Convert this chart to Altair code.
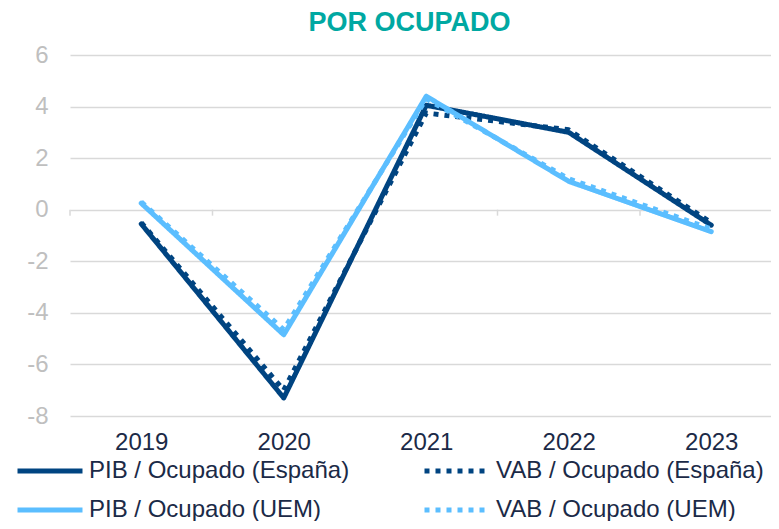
import altair as alt
import pandas as pd

years = [2019, 2020, 2021, 2022, 2023]
series_names = [
    "PIB / Ocupado (España)",
    "VAB / Ocupado (España)",
    "PIB / Ocupado (UEM)",
    "VAB / Ocupado (UEM)",
]
pib_espana = [-0.55, -7.3, 4.05, 3.0, -0.6]
vab_espana = [-0.5, -7.0, 3.75, 3.1, -0.5]
pib_uem = [0.25, -4.85, 4.4, 1.1, -0.85]
vab_uem = [0.3, -4.65, 4.3, 1.2, -0.75]
y_ticks = [-8, -6, -4, -2, 0, 2, 4, 6]
zero_ticks = [2018.5, 2019.5, 2020.5, 2021.5, 2022.5]

DARK = "#004481"
LIGHT = "#5BBEFF"
colors = [DARK, DARK, LIGHT, LIGHT]
dashes = [[1, 0], [5, 6], [1, 0], [5, 6]]
caps = ["round", "butt", "round", "butt"]

rows = []
for name, vals in zip(series_names, [pib_espana, vab_espana, pib_uem, vab_uem]):
    for i, (yr, v) in enumerate(zip(years, vals)):
        rows.append({"year": yr, "value": v, "serie": name, "order": i})
df = pd.DataFrame(rows)

xscale = alt.Scale(domain=[2018.5, 2018.5 + 701 / 142.5], nice=False, zero=False)
yscale = alt.Scale(domain=[-8, 6], nice=False, zero=False)

legend = alt.Legend(
    title=None,
    orient="none",
    legendX=-15,
    legendY=401,
    direction="horizontal",
    columns=2,
    columnPadding=64,
    rowPadding=12,
    symbolType="M-4.2,0H1",
    symbolSize=625,
    symbolStrokeWidth=5,
    labelFontSize=24,
    labelFont="Liberation Sans",
    labelColor="#1B2A47",
    labelOffset=4,
    labelLimit=400,
    padding=0,
)

x_enc = alt.X("year:Q", scale=xscale,
              axis=alt.Axis(values=years, format="d", title=None, grid=False, domain=False,
                            ticks=False, labelFontSize=24, labelFont="Liberation Sans",
                            labelColor="#1B2A47", labelPadding=14))
y_enc = alt.Y("value:Q", scale=yscale,
              axis=alt.Axis(values=y_ticks, title=None, domain=False, ticks=False,
                            labelExpr="'' + datum.value",
                            gridColor="#D9D9D9", gridWidth=1.5, labelFontSize=24,
                            labelFont="Liberation Sans", labelColor="#BFBFBF",
                            labelPadding=22))
color_enc = alt.Color("serie:N", scale=alt.Scale(domain=series_names, range=colors), legend=legend)
dash_enc = alt.StrokeDash("serie:N", scale=alt.Scale(domain=series_names, range=dashes), legend=legend)

tick_df = pd.DataFrame({"x": zero_ticks, "y": [0] * len(zero_ticks), "y2": [-0.23] * len(zero_ticks)})
zero_rules = alt.Chart(tick_df).mark_rule(color="#D9D9D9", strokeWidth=1.5).encode(
    x=alt.X("x:Q", scale=xscale), y=alt.Y("y:Q", scale=yscale), y2="y2:Q"
)

layers = [zero_rules]
for name, cap in zip(series_names, caps):
    layers.append(
        alt.Chart(df).transform_filter(alt.datum.serie == name)
        .mark_line(strokeWidth=5, strokeCap=cap, strokeJoin="round")
        .encode(x=x_enc, y=y_enc, color=color_enc, strokeDash=dash_enc, order="order:Q")
    )

chart = alt.layer(*layers).properties(
    width=701, height=361,
    title=alt.TitleParams("POR OCUPADO", fontSize=27, font="Liberation Sans", fontWeight="bold",
                          color="#00A8A2", anchor="middle", dx=-11, offset=6),
    autosize=alt.AutoSizeParams(type="none"),
    padding={"left": 62, "top": 47, "right": 0, "bottom": 105},
).configure_view(stroke=None)

chart.save("out.html", embed_options={"renderer": "svg", "actions": False})
